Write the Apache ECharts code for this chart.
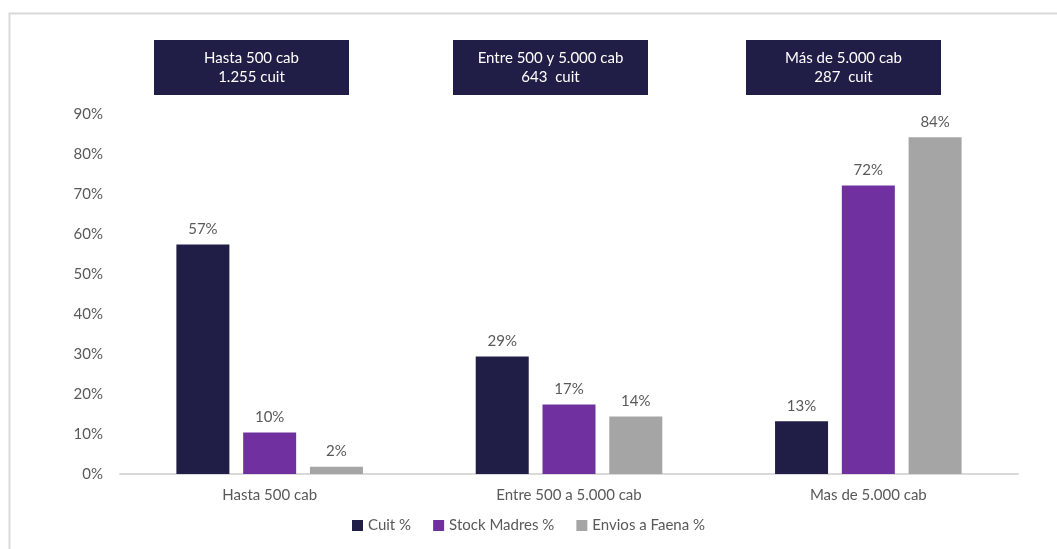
<!DOCTYPE html>
<html>
<head>
    <meta charset="utf-8">
    <title>Cuit por estrato</title>
    <script src="https://cdn.jsdelivr.net/npm/echarts@6/dist/echarts.min.js"></script>
    <style>
        html, body { margin: 0; padding: 0; background: #fff; }
        #main { width: 1057px; height: 549px; }
    </style>
</head>
<body>
<div id="main"></div>
<script>
    // datos del grafico
    var categorias = ['Hasta 500 cab', 'Entre 500 a 5.000 cab', 'Mas de 5.000 cab'];
    var cuit = [57.4, 29.4, 13.2];
    var stockMadres = [10.4, 17.4, 72.1];
    var enviosFaena = [1.8, 14.4, 84.2];
    var encabezados = ['Hasta 500 cab\n1.255 cuit', 'Entre 500 y 5.000 cab\n643  cuit', 'Más de 5.000 cab\n287  cuit'];
    var ticksY = [0, 10, 20, 30, 40, 50, 60, 70, 80, 90];

    var fuente = 'Lato, "Open Sans", sans-serif';
    var gris = '#595959';

    var myChart = echarts.init(document.getElementById('main'));

    var etiqueta = {
        show: true,
        position: 'top',
        distance: 8,
        color: gris,
        fontFamily: fuente,
        fontSize: 15,
        formatter: function (p) { return Math.round(p.value) + '%'; }
    };

    // cajas de encabezado sobre cada grupo
    var cajas = [];
    var xs = [154, 453, 746];
    for (var i = 0; i < encabezados.length; i++) {
        cajas.push({
            type: 'rect',
            shape: { x: xs[i], y: 40, width: 195, height: 55 },
            style: { fill: '#201e47' }
        });
        cajas.push({
            type: 'text',
            x: xs[i] + 97.5,
            y: 67.5,
            style: {
                text: encabezados[i],
                fill: '#ffffff',
                font: '15px ' + fuente,
                align: 'center',
                verticalAlign: 'middle',
                lineHeight: 19
            }
        });
    }
    cajas.push({
        type: 'rect',
        z: -1,
        shape: { x: 9.5, y: 13.5, width: 1070, height: 560 },
        style: { fill: 'none', stroke: '#d9d9d9', lineWidth: 2 }
    });

    var option = {
        animation: false,
        textStyle: { fontFamily: fuente },
        grid: { left: 120, right: 39, top: 114, bottom: 75 },
        legend: {
            bottom: 11,
            left: 'center',
            itemWidth: 11,
            itemHeight: 11,
            itemGap: 22,
            icon: 'rect',
            textStyle: { color: gris, fontSize: 15, fontFamily: fuente },
            data: ['Cuit %', 'Stock Madres %', 'Envios a Faena %']
        },
        xAxis: {
            type: 'category',
            data: categorias,
            axisLine: { lineStyle: { color: '#d9d9d9', width: 2 } },
            axisTick: { show: false },
            axisLabel: { color: gris, fontSize: 15, margin: 14, fontFamily: fuente }
        },
        yAxis: {
            type: 'value',
            min: 0,
            max: 90,
            interval: 10,
            splitLine: { show: false },
            axisLine: { show: false },
            axisTick: { show: false },
            axisLabel: {
                color: gris,
                fontSize: 15,
                margin: 17,
                fontFamily: fuente,
                formatter: function (v) { return ticksY.indexOf(v) >= 0 ? v + '%' : ''; }
            }
        },
        series: [
            { name: 'Cuit %', type: 'bar', data: cuit, barWidth: 53, barGap: '26%',
              itemStyle: { color: '#201e47' }, label: etiqueta },
            { name: 'Stock Madres %', type: 'bar', data: stockMadres, barWidth: 53,
              itemStyle: { color: '#7030a0' }, label: etiqueta },
            { name: 'Envios a Faena %', type: 'bar', data: enviosFaena, barWidth: 53,
              itemStyle: { color: '#a5a5a5' }, label: etiqueta }
        ],
        graphic: cajas
    };
    myChart.setOption(option);
</script>
</body>
</html>
